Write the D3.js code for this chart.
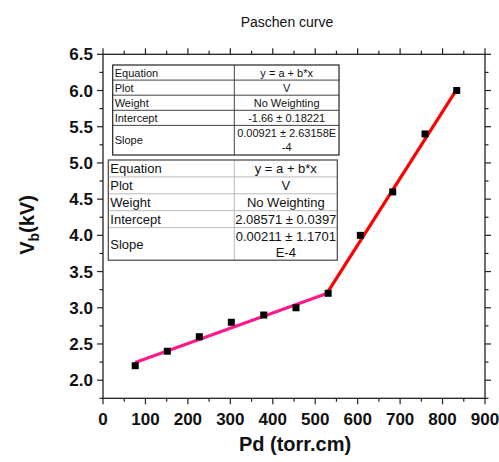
<!DOCTYPE html>
<html><head><meta charset="utf-8">
<script src="https://cdn.jsdelivr.net/npm/d3@7"></script>
<style>
html,body{margin:0;padding:0;background:#fff;}
svg text{font-family:"Liberation Sans",Arial,sans-serif;}
</style></head>
<body><svg id="c" width="499" height="462"></svg>
<script>
// ---- data ----
const pd = [75.9, 151.5, 226.9, 302.3, 378.7, 454.7, 530.5, 606.3, 682.6, 758.7, 833.4];
const vb = [2.2, 2.4, 2.6, 2.8, 2.9, 3.0, 3.2, 4.0, 4.6, 5.4, 6.0];
const fitLow = {a: 2.08571, b: 0.00211, from: 0, to: 6};
const fitHigh = {a: -1.66, b: 0.00921, from: 6, to: 10};
const xTicks = [0,100,200,300,400,500,600,700,800,900];
const yTicks = [2.0,2.5,3.0,3.5,4.0,4.5,5.0,5.5,6.0,6.5];
const table1 = [["Equation","y = a + b*x"],["Plot","V"],["Weight","No Weighting"],["Intercept","-1.66 ± 0.18221"],["Slope","0.00921 ± 2.63158E\n-4"]];
const table2 = [["Equation","y = a + b*x"],["Plot","V"],["Weight","No Weighting"],["Intercept","2.08571 ± 0.0397"],["Slope","0.00211 ± 1.1701\nE-4"]];
const title = "Paschen curve";
const xTitle = "Pd (torr.cm)";

// ---- layout ----
const svg = d3.select("#c");
const L = 103, R = 485, T = 54.3, B = 398.3;
const x = d3.scaleLinear().domain([0, 900]).range([L, R]);
const y = d3.scaleLinear().domain([1.75, 6.5]).range([B, T]);
const axisColor = "#222";

// title
svg.append("text").attr("x", 287).attr("y", 27).attr("text-anchor","middle")
  .attr("font-size", 14).attr("fill","#111").text(title);

// frame
svg.append("rect").attr("x", L).attr("y", T).attr("width", R-L).attr("height", B-T)
  .attr("fill","none").attr("stroke",axisColor).attr("stroke-width",1.3);

const xMinor = d3.range(0, 901, 50);
const yMinor = d3.range(1.75, 6.51, 0.25);
const tg = svg.append("g").attr("stroke",axisColor).attr("stroke-width",1.2);
xMinor.forEach(v => {
  const major = v % 100 === 0; const len = major ? 6 : 3.5;
  tg.append("line").attr("x1",x(v)).attr("x2",x(v)).attr("y1",B).attr("y2",B+len);
  tg.append("line").attr("x1",x(v)).attr("x2",x(v)).attr("y1",T).attr("y2",T-len);
});
yMinor.forEach(v => {
  const major = Math.abs(v*2 - Math.round(v*2)) < 1e-6 && v >= 2; const len = major ? 6 : 3.5;
  tg.append("line").attr("y1",y(v)).attr("y2",y(v)).attr("x1",L).attr("x2",L-len);
  tg.append("line").attr("y1",y(v)).attr("y2",y(v)).attr("x1",R).attr("x2",R+len);
});

// tick labels
svg.append("g").selectAll("text").data(xTicks).join("text")
  .attr("x", d => x(d)).attr("y", B + 27).attr("text-anchor","middle")
  .attr("font-size", 17).attr("font-weight","bold").attr("fill","#111").text(d => d);
svg.append("g").selectAll("text").data(yTicks).join("text")
  .attr("x", L - 10).attr("y", d => y(d) + 6).attr("text-anchor","end")
  .attr("font-size", 17).attr("font-weight","bold").attr("fill","#111").text(d => d.toFixed(1));

// axis titles
svg.append("text").attr("x", 295).attr("y", 451).attr("text-anchor","middle")
  .attr("font-size", 20).attr("font-weight","bold").attr("fill","#111").text(xTitle);
const yt = svg.append("text").attr("transform","translate(34,225) rotate(-90)").attr("text-anchor","middle")
  .attr("font-size", 20).attr("font-weight","bold").attr("fill","#111");
yt.append("tspan").text("V");
yt.append("tspan").attr("font-size",14).attr("dy",5).text("b");
yt.append("tspan").attr("dy",-5).text("(kV)");

// tables
function drawTable(t, x0, y0, w, colX, rowH, lastH, fs, innerColor, outerColor){
  const g = svg.append("g");
  let yy = y0;
  const total = rowH*(t.length-1) + lastH;
  g.append("rect").attr("x",x0).attr("y",y0).attr("width",w).attr("height",total).attr("fill","#fff");
  t.forEach((row, i) => {
    const h = i === t.length-1 ? lastH : rowH;
    if (i > 0) g.append("line").attr("x1",x0).attr("x2",x0+w).attr("y1",yy).attr("y2",yy).attr("stroke",innerColor).attr("stroke-width",1);
    g.append("text").attr("x",x0+2).attr("y",yy+h/2+fs*0.36).attr("font-size",fs).attr("fill","#111").text(row[0]);
    const lines = row[1].split("\n");
    lines.forEach((ln, k) => {
      const cy = yy + h/2 + (k - (lines.length-1)/2) * (fs*1.22);
      g.append("text").attr("x",(colX + x0 + w)/2).attr("y",cy+fs*0.36).attr("text-anchor","middle")
        .attr("font-size",fs).attr("fill","#111").text(ln);
    });
    yy += h;
  });
  g.append("line").attr("x1",colX).attr("x2",colX).attr("y1",y0).attr("y2",y0+total).attr("stroke",innerColor).attr("stroke-width",1);
  g.append("rect").attr("x",x0).attr("y",y0).attr("width",w).attr("height",total).attr("fill","none").attr("stroke",outerColor).attr("stroke-width",1.2);
}
drawTable(table1, 112.7, 65, 226.3, 234.3, 15.1, 29.6, 11, "#444", "#222");
drawTable(table2, 108.3, 160, 229, 234.3, 16.9, 32.6, 13, "#bbb", "#444");

// fit lines
function fitLine(f, color){
  const xs = [pd[f.from], pd[f.to]];
  svg.append("line").attr("x1",x(xs[0])).attr("x2",x(xs[1]))
    .attr("y1",y(f.a + f.b*xs[0])).attr("y2",y(f.a + f.b*xs[1]))
    .attr("stroke",color).attr("stroke-width",3.2);
}
fitLine(fitLow, "#ff1a8c");
fitLine(fitHigh, "#ff0000");

// markers
const ms = 7;
svg.append("g").selectAll("rect").data(pd.map((p,i)=>[p,vb[i]])).join("rect")
  .attr("x", d => x(d[0]) - ms/2).attr("y", d => y(d[1]) - ms/2)
  .attr("width", ms).attr("height", ms).attr("fill","#000");
</script></body></html>
